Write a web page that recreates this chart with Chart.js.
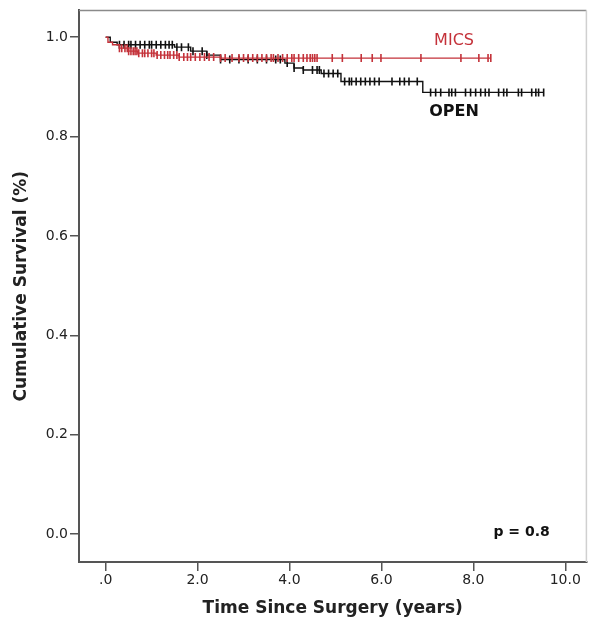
<!DOCTYPE html>
<html>
<head>
<meta charset="utf-8">
<script src="https://cdn.jsdelivr.net/npm/chart.js@4"></script>
<style>
  html, body { margin: 0; padding: 0; background: #fff; }
  #wrap { width: 592px; height: 629px; }
</style>
</head>
<body>
<div id="wrap"><canvas id="km"></canvas></div>
<script>
// Kaplan-Meier steps: time (years) where survival drops, and new survival level
var micsTimes = [0, 0.05, 0.15, 0.3, 0.5, 0.7, 1.1, 1.6, 2.5];
var micsSurv  = [1.0, 0.99, 0.985, 0.978, 0.972, 0.968, 0.964, 0.96, 0.958];
var micsEnd = 8.38;
var micsCensored = [0.3, 0.35, 0.42, 0.47, 0.5, 0.55, 0.6, 0.64, 0.68, 0.72, 0.8, 0.85, 0.92, 1.0, 1.05,
  1.12, 1.2, 1.28, 1.35, 1.4, 1.48, 1.55, 1.6, 1.7, 1.78, 1.85, 1.95, 2.05, 2.15, 2.25, 2.35, 2.5,
  2.6, 2.75, 2.9, 3.0, 3.1, 3.2, 3.3, 3.4, 3.5, 3.6, 3.65, 3.75, 3.85, 3.95, 4.05, 4.1, 4.2, 4.3,
  4.38, 4.45, 4.5, 4.55, 4.6, 4.93, 5.15, 5.56, 5.8, 5.99, 6.86, 7.73, 8.12, 8.32, 8.38];

var openTimes = [0, 0.1, 0.25, 1.5, 1.85, 2.2, 2.5, 3.9, 4.1, 4.3, 4.69, 5.12, 6.9];
var openSurv  = [1.0, 0.99, 0.985, 0.98, 0.972, 0.964, 0.955, 0.948, 0.938, 0.934, 0.927, 0.911, 0.889];
var openEnd = 9.53;
var openCensored = [0.3, 0.4, 0.5, 0.55, 0.65, 0.75, 0.85, 0.95, 1.0, 1.1, 1.2, 1.3, 1.38, 1.45, 1.55,
  1.65, 1.8, 1.9, 2.1, 2.2, 2.5, 2.7, 2.9, 3.1, 3.3, 3.5, 3.7, 3.8, 3.95, 4.1, 4.3, 4.5, 4.6, 4.65,
  4.75, 4.85, 4.95, 5.05, 5.2, 5.3, 5.35, 5.45, 5.55, 5.65, 5.75, 5.85, 5.95, 6.23, 6.4, 6.5, 6.6,
  6.78, 7.07, 7.18, 7.29, 7.47, 7.53, 7.61, 7.83, 7.94, 8.05, 8.16, 8.26, 8.34, 8.55, 8.66, 8.73,
  8.98, 9.05, 9.27, 9.36, 9.42, 9.53];

var xTicks = [0, 2, 4, 6, 8, 10];
var yTicks = [0, 0.2, 0.4, 0.6, 0.8, 1.0];

// text labels placed in data coordinates
var labelText = ['MICS', 'OPEN', 'p = 0.8'];
var labelX = [7.58, 7.58, 9.05];
var labelY = [0.992, 0.849, 0.004];

var RED = '#c4323a';
var BLACK = '#111111';
var FONT = 'DejaVu Sans';

function stepPoints(times, surv, end) {
  var pts = times.map(function (t, i) { return { x: t, y: surv[i] }; });
  pts.push({ x: end, y: surv[surv.length - 1] });
  return pts;
}

function survivalAt(times, surv, t) {
  var s = surv[0];
  for (var i = 0; i < times.length; i++) {
    if (times[i] <= t) s = surv[i];
  }
  return s;
}

function censorPoints(times, surv, cens) {
  return cens.map(function (t) { return { x: t, y: survivalAt(times, surv, t) }; });
}

// light frame on top and right, plus text labels
var extras = {
  id: 'extras',
  beforeDatasetsDraw: function (chart) {
    var a = chart.chartArea, ctx = chart.ctx;
    ctx.save();
    ctx.lineWidth = 1.5;
    ctx.strokeStyle = '#8a8a8a';
    ctx.beginPath();
    ctx.moveTo(a.left, a.top);
    ctx.lineTo(a.right, a.top);
    ctx.stroke();
    ctx.strokeStyle = '#d0d0d0';
    ctx.beginPath();
    ctx.moveTo(a.right, a.top);
    ctx.lineTo(a.right, a.bottom);
    ctx.stroke();
    ctx.restore();
  },
  afterDatasetsDraw: function (chart) {
    var ctx = chart.ctx;
    var sx = chart.scales.x, sy = chart.scales.y;
    var colors = [RED, BLACK, BLACK];
    var fonts = ['16px "' + FONT + '"', 'bold 16px "' + FONT + '"', 'bold 14px "' + FONT + '"'];
    ctx.save();
    ctx.textAlign = 'center';
    ctx.textBaseline = 'middle';
    labelText.forEach(function (txt, i) {
      ctx.fillStyle = colors[i];
      ctx.font = fonts[i];
      ctx.fillText(txt, sx.getPixelForValue(labelX[i]), sy.getPixelForValue(labelY[i]));
    });
    ctx.restore();
  }
};

new Chart(document.getElementById('km'), {
  type: 'scatter',
  data: {
    datasets: [
      {
        label: 'MICS',
        data: stepPoints(micsTimes, micsSurv, micsEnd),
        showLine: true, stepped: 'before',
        borderColor: RED, borderWidth: 1.4, pointRadius: 0
      },
      {
        label: 'MICS censored',
        data: censorPoints(micsTimes, micsSurv, micsCensored),
        showLine: false, pointStyle: 'line', rotation: 90,
        pointRadius: 4, borderColor: RED, borderWidth: 1.6
      },
      {
        label: 'OPEN',
        data: stepPoints(openTimes, openSurv, openEnd),
        showLine: true, stepped: 'before',
        borderColor: BLACK, borderWidth: 1.4, pointRadius: 0
      },
      {
        label: 'OPEN censored',
        data: censorPoints(openTimes, openSurv, openCensored),
        showLine: false, pointStyle: 'line', rotation: 90,
        pointRadius: 4, borderColor: BLACK, borderWidth: 1.6
      }
    ]
  },
  options: {
    responsive: true,
    maintainAspectRatio: false,
    animation: false,
    layout: { padding: { left: 0, right: 4, top: 10, bottom: 0 } },
    plugins: { legend: { display: false }, tooltip: { enabled: false } },
    scales: {
      x: {
        type: 'linear', min: -0.58, max: 10.46,
        afterBuildTicks: function (s) { s.ticks = xTicks.map(function (v) { return { value: v }; }); },
        afterFit: function (s) { s.height = 67; },
        grid: { drawOnChartArea: false, drawTicks: true, tickLength: 9, color: '#555', lineWidth: 1.5 },
        border: { display: true, color: '#555', width: 2 },
        ticks: {
          padding: 1, color: '#222', font: { family: FONT, size: 14 },
          callback: function (v) { return v === 0 ? '.0' : v.toFixed(1); }
        },
        title: {
          display: true, text: 'Time Since Surgery (years)', color: '#222',
          font: { family: FONT, size: 17, weight: 'bold' },
          padding: { top: 0, bottom: 9.8 }
        }
      },
      y: {
        type: 'linear', min: -0.056, max: 1.054,
        afterBuildTicks: function (s) { s.ticks = yTicks.map(function (v) { return { value: v }; }); },
        afterFit: function (s) { s.width = 79; },
        grid: { drawOnChartArea: false, drawTicks: true, tickLength: 9, color: '#555', lineWidth: 1.5 },
        border: { display: true, color: '#555', width: 2 },
        ticks: {
          padding: 2, color: '#222', font: { family: FONT, size: 14 },
          callback: function (v) { return v.toFixed(1); }
        },
        title: {
          display: true, text: 'Cumulative Survival (%)', color: '#222',
          font: { family: FONT, size: 17, weight: 'bold' },
          padding: { top: 11.8, bottom: 0 }
        }
      }
    }
  },
  plugins: [extras]
});
</script>
</body>
</html>
